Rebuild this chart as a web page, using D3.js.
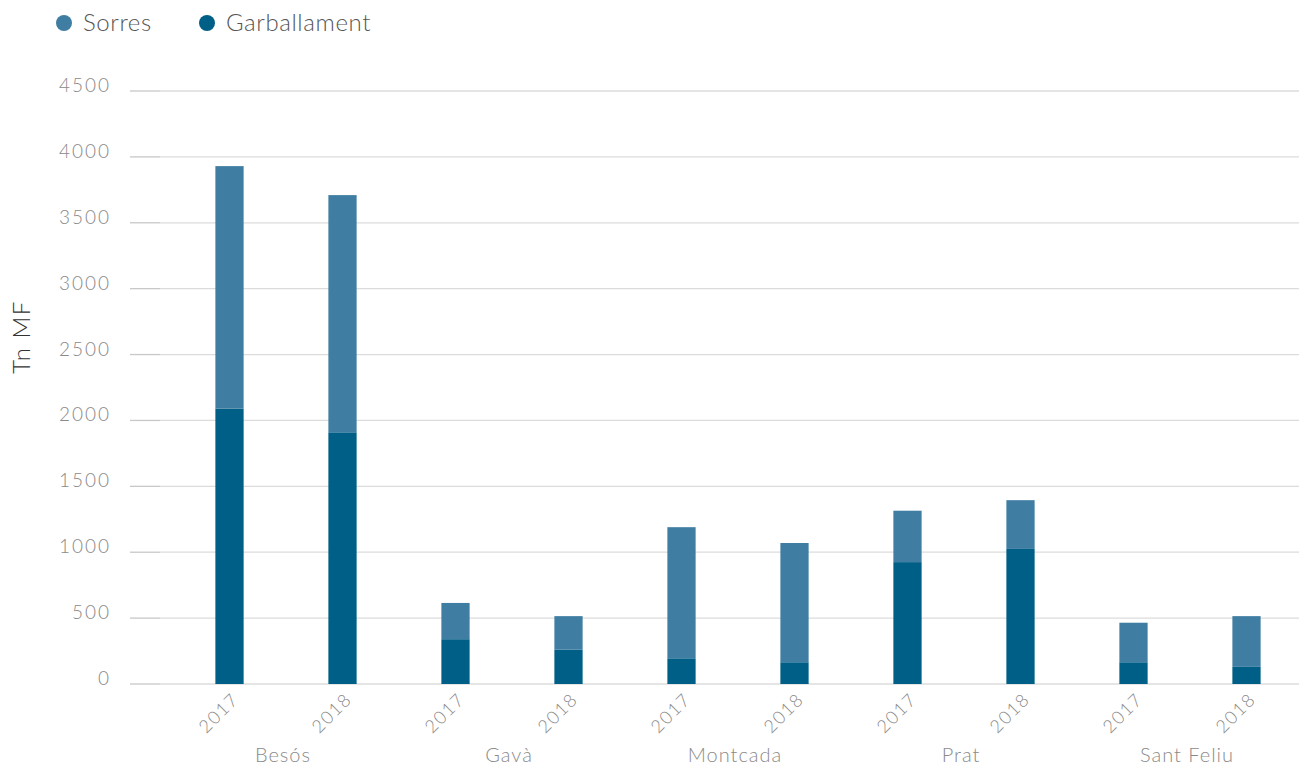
<!DOCTYPE html>
<html><head><meta charset="utf-8">
<script src="https://cdn.jsdelivr.net/npm/d3@7"></script>
<style>body{margin:0;background:#fff;}svg{display:block;font-family:Lato,"Open Sans",sans-serif;}</style>
</head><body>
<svg id="c" width="1299" height="769"></svg>
<script>
const groups = ["Besós","Gavà","Montcada","Prat","Sant Feliu"];
const years = ["2017","2018"];
const garballament = [2090,1910, 340,260, 195,165, 925,1025, 165,130];
const sorres = [1840,1800, 275,255, 995,905, 390,370, 300,385];
const seriesNames = ["Garballament","Sorres"];
const legendNames = ["Sorres","Garballament"];
const yTicks = [0,500,1000,1500,2000,2500,3000,3500,4000,4500];
const colors = {"Sorres":"#3f7ea2","Garballament":"#005f87"};

const rows = [];
groups.forEach((g,i)=>years.forEach((y,j)=>{
  const k=i*2+j;
  rows.push({key:g+"|"+y, group:g, year:y, Garballament:garballament[k], Sorres:sorres[k]});
}));

const svg = d3.select("#c");
const x = d3.scaleBand().domain(rows.map(r=>r.key)).range([173,1303]).paddingInner(0.75).paddingOuter(0.375);
const y = d3.scaleLinear().domain([0,4500]).range([684,91]);

// grid
const gy = svg.append("g");
yTicks.forEach(t=>{
  gy.append("line").attr("x1",130).attr("x2",160).attr("y1",y(t)).attr("y2",y(t)).attr("stroke","#c8c8c8").attr("stroke-width",1.3);
  gy.append("line").attr("x1",160).attr("x2",1299).attr("y1",y(t)).attr("y2",y(t)).attr("stroke","#dcdcdc").attr("stroke-width",1.3);
  gy.append("text").attr("x",111).attr("y",y(t)+1).attr("text-anchor","end").attr("font-size",19).attr("letter-spacing",2).attr("font-weight",300).attr("fill","#8a8a8a").text(t);
});

// bars
const stack = d3.stack().keys(seriesNames)(rows);
svg.append("g").selectAll("g").data(stack).join("g").attr("fill",d=>colors[d.key])
  .selectAll("rect").data(d=>d).join("rect")
  .attr("x",d=>x(d.data.key)).attr("width",x.bandwidth())
  .attr("y",d=>y(d[1])).attr("height",d=>y(d[0])-y(d[1]));

// year labels
rows.forEach(r=>{
  const cx = x(r.key)+x.bandwidth()/2;
  svg.append("text").attr("transform",`translate(${cx+6},${696}) rotate(-45)`).attr("text-anchor","end")
    .attr("dy","0.35em").attr("font-size",18).attr("letter-spacing",1.5).attr("font-weight",300).attr("fill","#8a8a8a").text(r.year);
});
// group labels
groups.forEach(g=>{
  const a = x(g+"|2017")+x.bandwidth()/2, b = x(g+"|2018")+x.bandwidth()/2;
  svg.append("text").attr("x",(a+b)/2-3).attr("y",762).attr("text-anchor","middle").attr("font-size",20).attr("letter-spacing",1).attr("font-weight",300).attr("fill","#8a8a8a").text(g);
});

// y title
svg.append("text").attr("transform","translate(30,337) rotate(-90)").attr("text-anchor","middle").attr("font-size",24).attr("letter-spacing",1.5).attr("font-weight",300).attr("fill","#333").text("Tn MF");

// legend
const lx=[64,207];
legendNames.forEach((n,i)=>{
  svg.append("circle").attr("cx",lx[i]).attr("cy",23).attr("r",8).attr("fill",colors[n]);
  svg.append("text").attr("x",lx[i]+19).attr("y",31).attr("font-size",24).attr("letter-spacing",0.6).attr("font-weight",300).attr("fill","#555").text(n);
});
</script>
</body></html>
